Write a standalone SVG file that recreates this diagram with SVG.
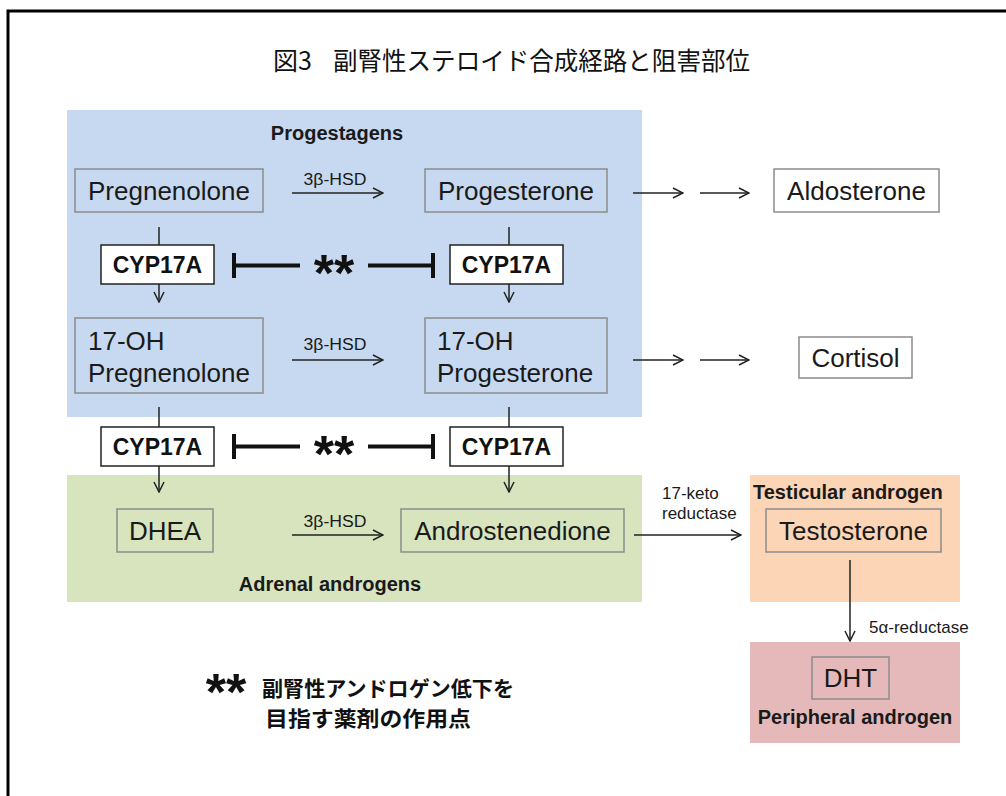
<svg xmlns="http://www.w3.org/2000/svg" width="1006" height="796" viewBox="0 0 1006 796">
<style>
.lbl{font-family:"Liberation Sans",Arial,sans-serif;font-size:26px;fill:#1a1a1a}
.cyp{font-family:"Liberation Sans",Arial,sans-serif;font-size:23px;font-weight:bold;fill:#111}
.grp{font-family:"Liberation Sans",Arial,sans-serif;font-size:20px;font-weight:bold;fill:#1a1a1a}
.enz{font-family:"Liberation Sans",Arial,sans-serif;font-size:16px;fill:#1a1a1a}
.enz2{font-family:"Liberation Sans",Arial,sans-serif;font-size:17px;fill:#1a1a1a}
.ast{font-family:"Liberation Sans",Arial,sans-serif;font-size:52px;font-weight:bold;fill:#111}
.jp{font-family:"Noto Sans CJK JP",sans-serif;fill:#111}
.gbox{fill:none;stroke:#8c8c8c;stroke-width:1.5}
.wbox{fill:#fff;stroke:#8c8c8c;stroke-width:1.5}
.kbox{fill:#fff;stroke:#222;stroke-width:1.5}
.ln{stroke:#222;stroke-width:1.5;fill:none}
.arr{stroke:#222;stroke-width:1.5;fill:none;marker-end:url(#ah)}
.inh{stroke:#111;stroke-width:4;fill:none}
</style>
<defs>
<marker id="ah" viewBox="-11 -6 12 12" refX="0" refY="0" markerWidth="12" markerHeight="12" orient="auto" markerUnits="userSpaceOnUse">
<path d="M-10,-5 L0,0 L-10,5" fill="none" stroke="#222" stroke-width="1.5"/>
</marker>
</defs>
<rect width="1006" height="796" fill="#fff"/>
<path d="M8,796 V11 H1006" fill="none" stroke="#000" stroke-width="3"/>
<text class="jp" x="273" y="70" font-size="25"><tspan>図3</tspan><tspan x="333" textLength="417" lengthAdjust="spacingAndGlyphs">副腎性ステロイド合成経路と阻害部位</tspan></text>

<g id="regions">
<rect id="progestagens-area" x="67" y="110" width="575" height="307" fill="#c6d9f0"/>
<rect id="adrenal-area" x="67" y="475" width="575" height="127" fill="#d7e4bd"/>
<rect id="testicular-area" x="750" y="475" width="210" height="127" fill="#fbd5b5"/>
<rect id="peripheral-area" x="750" y="642" width="210" height="101" fill="#e5b9b9"/>
<text class="grp" x="337" y="140" text-anchor="middle">Progestagens</text>
<text class="grp" x="330" y="591" text-anchor="middle">Adrenal androgens</text>
<text class="grp" x="753" y="499">Testicular androgen</text>
<text class="grp" x="855" y="724" text-anchor="middle">Peripheral androgen</text>
</g>

<g id="connectors">
<line class="arr" x1="292" y1="193" x2="383" y2="193"/>
<text class="enz" x="335" y="185" text-anchor="middle" textLength="63" lengthAdjust="spacingAndGlyphs">3β-HSD</text>
<line class="arr" x1="292" y1="360" x2="383" y2="360"/>
<text class="enz" x="335" y="350" text-anchor="middle" textLength="63" lengthAdjust="spacingAndGlyphs">3β-HSD</text>
<line class="arr" x1="292" y1="535" x2="383" y2="535"/>
<text class="enz" x="335" y="527" text-anchor="middle" textLength="63" lengthAdjust="spacingAndGlyphs">3β-HSD</text>
<line class="arr" x1="633" y1="193" x2="683" y2="193"/>
<line class="arr" x1="700" y1="193" x2="749" y2="193"/>
<line class="arr" x1="633" y1="360" x2="683" y2="360"/>
<line class="arr" x1="700" y1="360" x2="749" y2="360"/>
<line class="ln" x1="159" y1="227" x2="159" y2="245"/>
<line class="arr" x1="159" y1="284" x2="159" y2="302"/>
<line class="ln" x1="509" y1="227" x2="509" y2="245"/>
<line class="arr" x1="509" y1="284" x2="509" y2="302"/>
<line class="ln" x1="159" y1="407" x2="159" y2="427"/>
<line class="arr" x1="159" y1="466" x2="159" y2="492"/>
<line class="ln" x1="509" y1="407" x2="509" y2="427"/>
<line class="arr" x1="509" y1="466" x2="509" y2="492"/>
<line class="arr" x1="634" y1="535" x2="741" y2="535"/>
<text class="enz2" x="662" y="499">17-keto</text>
<text class="enz2" x="662" y="519">reductase</text>
<line class="arr" x1="850" y1="560" x2="850" y2="641"/>
<text class="enz2" x="869" y="633">5α-reductase</text>
<path class="inh" d="M234,253 V278 M234,265.5 H300 M368,265.5 H433 M433,253 V278"/>
<text class="ast" x="334" y="291" text-anchor="middle">**</text>
<path class="inh" d="M234,434 V459 M234,446.5 H300 M368,446.5 H433 M433,434 V459"/>
<text class="ast" x="334" y="472" text-anchor="middle">**</text>
</g>

<g id="pregnenolone"><rect class="gbox" x="75" y="169" width="188" height="43"/><text class="lbl" x="169" y="200" text-anchor="middle">Pregnenolone</text></g>
<g id="progesterone"><rect class="gbox" x="425" y="169" width="182" height="43"/><text class="lbl" x="516" y="200" text-anchor="middle">Progesterone</text></g>
<g id="aldosterone"><rect class="wbox" x="774" y="169" width="165" height="43"/><text class="lbl" x="856.5" y="200" text-anchor="middle">Aldosterone</text></g>
<g id="cyp17a-1"><rect class="kbox" x="101" y="245" width="113" height="39"/><text class="cyp" x="157.5" y="273" text-anchor="middle">CYP17A</text></g>
<g id="cyp17a-2"><rect class="kbox" x="450" y="245" width="113" height="39"/><text class="cyp" x="506.5" y="273" text-anchor="middle">CYP17A</text></g>
<g id="oh-pregnenolone"><rect class="gbox" x="75" y="318" width="188" height="75"/><text class="lbl" x="88" y="350">17-OH</text><text class="lbl" x="88" y="382">Pregnenolone</text></g>
<g id="oh-progesterone"><rect class="gbox" x="425" y="318" width="182" height="75"/><text class="lbl" x="437" y="350">17-OH</text><text class="lbl" x="437" y="382">Progesterone</text></g>
<g id="cortisol"><rect class="wbox" x="799" y="337" width="113" height="41"/><text class="lbl" x="855.5" y="367" text-anchor="middle">Cortisol</text></g>
<g id="cyp17a-3"><rect class="kbox" x="101" y="427" width="113" height="39"/><text class="cyp" x="157.5" y="455" text-anchor="middle">CYP17A</text></g>
<g id="cyp17a-4"><rect class="kbox" x="450" y="427" width="113" height="39"/><text class="cyp" x="506.5" y="455" text-anchor="middle">CYP17A</text></g>
<g id="dhea"><rect class="gbox" x="117" y="509" width="96" height="43"/><text class="lbl" x="165" y="540" text-anchor="middle">DHEA</text></g>
<g id="androstenedione"><rect class="gbox" x="401" y="509" width="223" height="43"/><text class="lbl" x="512.5" y="540" text-anchor="middle">Androstenedione</text></g>
<g id="testosterone"><rect class="gbox" x="766" y="509" width="175" height="43"/><text class="lbl" x="853.5" y="540" text-anchor="middle">Testosterone</text></g>
<g id="dht"><rect class="gbox" x="812" y="657" width="77" height="42"/><text class="lbl" x="850.5" y="687" text-anchor="middle">DHT</text></g>

<g id="legend">
<text class="ast" x="226" y="710" text-anchor="middle">**</text>
<text class="jp" x="262" y="696" font-size="21" font-weight="bold" textLength="252" lengthAdjust="spacingAndGlyphs">副腎性アンドロゲン低下を</text>
<text class="jp" x="265" y="726" font-size="21" font-weight="bold" textLength="206" lengthAdjust="spacingAndGlyphs">目指す薬剤の作用点</text>
</g>
</svg>
